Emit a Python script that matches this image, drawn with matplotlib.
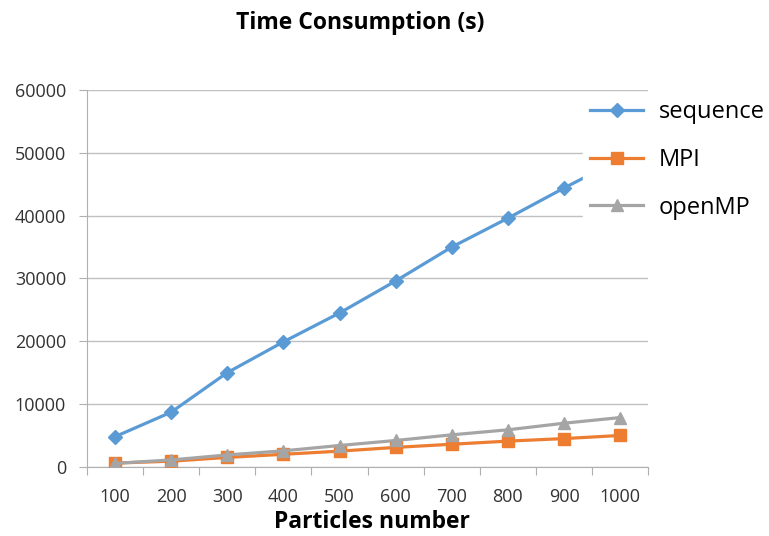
import matplotlib.pyplot as plt

plt.rcParams['font.family'] = ['Open Sans', 'DejaVu Sans']

particles = ['100', '200', '300', '400', '500', '600', '700', '800', '900', '1000']
sequence = [4800, 8700, 15000, 19900, 24500, 29600, 35000, 39600, 44400, 49000]
mpi = [600, 900, 1500, 2000, 2500, 3100, 3600, 4100, 4500, 5000]
openmp = [550, 1100, 1900, 2550, 3400, 4200, 5100, 5900, 6950, 7850]

fig = plt.figure(figsize=(7.69, 5.36), dpi=100)
ax = fig.add_axes([0.113, 0.129, 0.73, 0.703])

x = list(range(1, len(particles) + 1))
ax.plot(x, sequence, color='#5B9BD5', lw=2.3, marker='D', ms=7, label='sequence', zorder=3)
ax.plot(x, mpi, color='#ED7D31', lw=2.3, marker='s', ms=8, label='MPI', zorder=3)
ax.plot(x, openmp, color='#A5A5A5', lw=2.3, marker='^', ms=9, label='openMP', zorder=3)

ax.set_xlim(0.5, len(particles) + 0.5)
ax.set_ylim(0, 60000)
ax.set_yticks(range(0, 60001, 10000))
ax.yaxis.grid(True, color='#c0c0c0', lw=1)
ax.set_axisbelow(True)

# category labels centred, tick marks between categories
ax.set_xticks([i + 0.5 for i in range(0, len(particles) + 1)])
ax.set_xticklabels([])
ax.set_xticks(x, minor=True)
ax.set_xticklabels(particles, minor=True)
ax.tick_params(axis='x', which='major', length=6, color='#b0b0b0', direction='out')
ax.tick_params(axis='x', which='minor', length=0, pad=15, labelsize=13, labelcolor='#333333')
ax.tick_params(axis='y', length=6, color='#b0b0b0', labelsize=13, labelcolor='#333333', pad=9)

for side in ['top', 'right']:
    ax.spines[side].set_visible(False)
for side in ['left', 'bottom']:
    ax.spines[side].set_color('#b0b0b0')

ax.set_xlabel('Particles number', fontsize=16.5, fontweight='bold', labelpad=3)
ax.xaxis.set_label_coords(0.508, -0.115)
fig.text(0.468, 0.957, 'Time Consumption (s)', fontsize=16.5, fontweight='bold', ha='center', va='center')

leg = fig.legend(loc='upper left', bbox_to_anchor=(0.758, 0.826), fontsize=17,
                 frameon=True, facecolor='white', edgecolor='white', framealpha=1,
                 labelspacing=1.0, handlelength=2.25, handletextpad=0.65,
                 borderpad=0.3, borderaxespad=0)
leg.set_zorder(10)

fig.savefig('out.png', dpi=100)
